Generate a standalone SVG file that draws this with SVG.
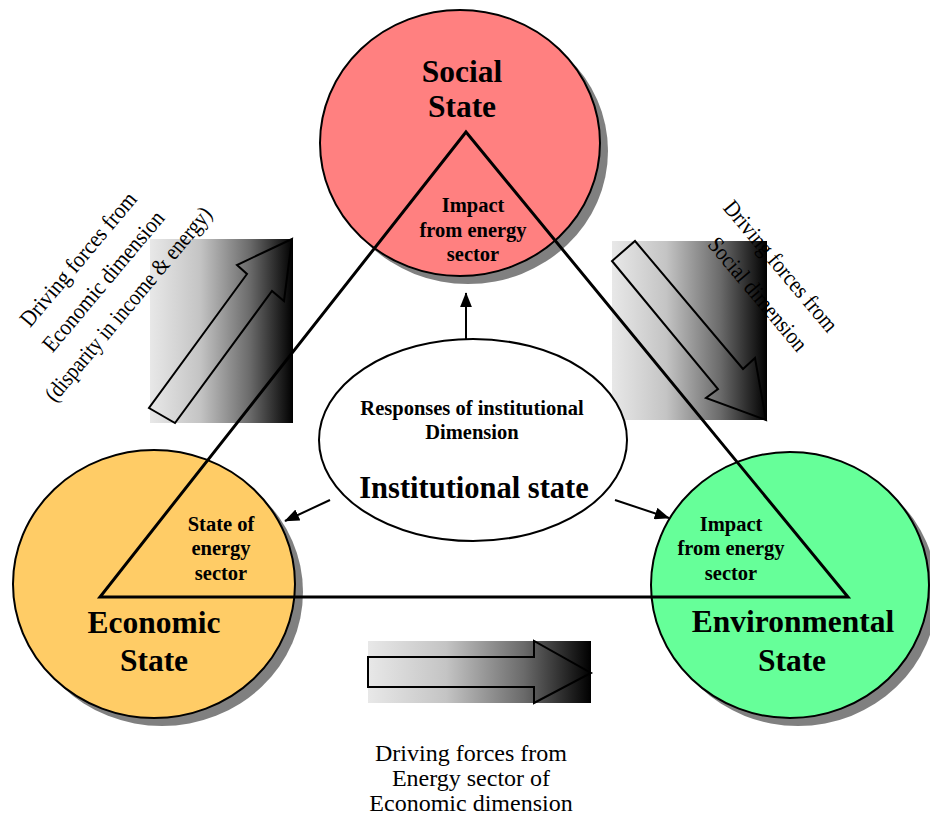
<svg xmlns="http://www.w3.org/2000/svg" width="930" height="821" viewBox="0 0 930 821">
<defs>
<linearGradient id="grad" x1="0" y1="0" x2="1" y2="0">
<stop offset="0" stop-color="#e8e8e8"/>
<stop offset="0.35" stop-color="#c4c4c4"/>
<stop offset="0.7" stop-color="#6a6a6a"/>
<stop offset="1" stop-color="#000"/>
</linearGradient>
<marker id="ahb" viewBox="0 0 10 10" refX="9.5" refY="5" markerWidth="15" markerHeight="12" orient="auto" markerUnits="userSpaceOnUse" preserveAspectRatio="none">
<path d="M0,0 L10,5 L0,10 z" fill="#000"/>
</marker>
</defs>
<style>
.shadow{fill:#808080;}
.state{stroke:#000;stroke-width:2;}
.big{font-family:"Liberation Serif","Times New Roman",serif;font-weight:bold;font-size:31.5px;text-anchor:middle;fill:#000;}
.small{font-family:"Liberation Serif","Times New Roman",serif;font-weight:bold;font-size:20.5px;text-anchor:middle;fill:#000;}
.plain{font-family:"Liberation Serif","Times New Roman",serif;font-size:23px;text-anchor:middle;fill:#000;}
.blk{fill:none;stroke:#000;stroke-width:2;stroke-linejoin:miter;}
.conn{stroke:#000;stroke-width:2;fill:none;}
.tri{stroke:#000;stroke-width:3;fill:none;stroke-linejoin:miter;}
</style>

<g id="social">
<ellipse class="shadow" cx="468" cy="151" rx="140" ry="133"/>
<ellipse class="state" cx="460" cy="143" rx="140" ry="133" fill="#ff8080"/>
</g>
<g id="economic">
<ellipse class="shadow" cx="162" cy="592" rx="141" ry="134"/>
<ellipse class="state" cx="154" cy="584" rx="141" ry="134" fill="#ffcc66"/>
</g>
<g id="environmental">
<ellipse class="shadow" cx="798" cy="593" rx="139" ry="133"/>
<ellipse class="state" cx="790" cy="585" rx="139" ry="133" fill="#66ff99"/>
</g>

<g id="force-economic">
<rect x="150" y="239" width="143" height="184" fill="url(#grad)"/>
<polygon class="blk" points="292,239 284,301 272,291 175,423 149,408 247,274 237,265"/>
<g class="plain">
<text transform="translate(84,264) rotate(-50)" textLength="168" lengthAdjust="spacingAndGlyphs">Driving forces from</text>
<text transform="translate(109,286) rotate(-50)" textLength="176" lengthAdjust="spacingAndGlyphs">Economic dimension</text>
<text transform="translate(134,309) rotate(-50)" textLength="246" lengthAdjust="spacingAndGlyphs">(disparity in income &amp; energy)</text>
</g>
</g>

<g id="force-social">
<rect x="612" y="241" width="155" height="179" fill="url(#grad)"/>
<polygon class="blk" points="766,420 706,398 718,389 612,261 635,241 743,369 755,358"/>
<g class="plain">
<text transform="translate(775,271) rotate(50)" textLength="164" lengthAdjust="spacingAndGlyphs">Driving forces from</text>
<text transform="translate(752,299) rotate(50)" textLength="141" lengthAdjust="spacingAndGlyphs">Social dimension</text>
</g>
</g>

<g id="force-energy">
<rect x="368" y="641" width="223" height="62" fill="url(#grad)"/>
<polygon class="blk" points="368,657 534,657 534,641 591,673 534,703 534,687 368,687"/>
<g class="plain" style="font-size:24px">
<text x="471" y="761">Driving forces from</text>
<text x="471" y="786">Energy sector of</text>
<text x="471" y="811">Economic dimension</text>
</g>
</g>

<g id="triangle">
<polygon class="tri" points="466,132 848,597 100,597"/>
</g>

<g id="institutional">
<ellipse cx="473" cy="440" rx="154" ry="101" fill="#fff" stroke="#000" stroke-width="2"/>
<text class="small" x="472" y="415">Responses of institutional</text>
<text class="small" x="472" y="439">Dimension</text>
<text class="big" x="474" y="498" style="font-size:30.5px">Institutional state</text>
</g>

<g id="connectors">
<line class="conn" x1="466" y1="339" x2="466" y2="293" marker-end="url(#ahb)"/>
<line class="conn" x1="330" y1="500" x2="285" y2="521" marker-end="url(#ahb)"/>
<line class="conn" x1="615" y1="500" x2="669" y2="518" marker-end="url(#ahb)"/>
</g>

<g id="labels">
<text class="big" x="462" y="82">Social</text>
<text class="big" x="462" y="117">State</text>
<text class="small" x="473" y="212">Impact</text>
<text class="small" x="473" y="237">from energy</text>
<text class="small" x="473" y="261">sector</text>

<text class="big" x="154" y="633">Economic</text>
<text class="big" x="154" y="671">State</text>
<text class="small" x="221" y="531">State of</text>
<text class="small" x="221" y="555">energy</text>
<text class="small" x="221" y="580">sector</text>

<text class="big" x="793" y="632">Environmental</text>
<text class="big" x="792" y="671">State</text>
<text class="small" x="731" y="531">Impact</text>
<text class="small" x="731" y="555">from energy</text>
<text class="small" x="731" y="580">sector</text>
</g>
</svg>
